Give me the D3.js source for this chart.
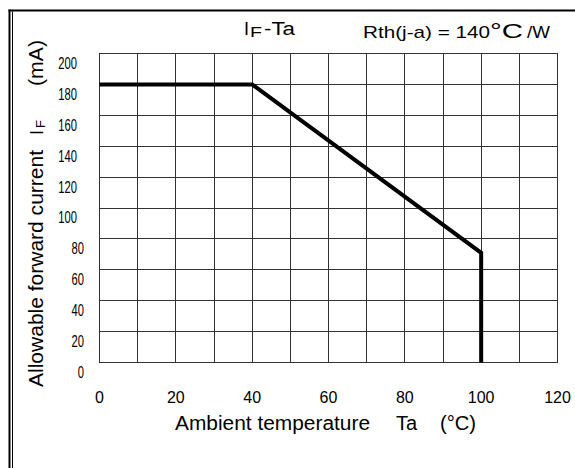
<!DOCTYPE html>
<html><head><meta charset="utf-8">
<script src="https://cdn.jsdelivr.net/npm/d3@7"></script>
<style>
body{margin:0;background:#fff}
svg{display:block}
text{font-family:"Liberation Sans",Arial,Helvetica,sans-serif;fill:#000}
</style>
</head><body>
<svg id="c" width="575" height="468"></svg>
<script>
// ---- data ----
const xTicks = [0, 20, 40, 60, 80, 100, 120];
const yTicks = [0, 20, 40, 60, 80, 100, 120, 140, 160, 180, 200];
const xGrid = [0, 10, 20, 30, 40, 50, 60, 70, 80, 90, 100, 110, 120];
const yGrid = [0, 20, 40, 60, 80, 100, 120, 140, 160, 180, 200];
const curveTa = [0, 40, 100, 100];
const curveIF = [180, 180, 71, 0];
const titleParts = ["I", "F", "-Ta"];
const rthParts = ["Rth(j-a) = 140", "°C", "/W"];
const xTitleParts = ["Ambient temperature", "Ta", "(°C)"];
const yTitleParts = ["Allowable forward current", "I", "F", "(mA)"];

// ---- chart ----
const svg = d3.select("#c");
const x = d3.scaleLinear().domain([0, 120]).range([99, 557]);
const y = d3.scaleLinear().domain([0, 200]).range([362, 53]);

// frame
const frame = svg.append("g").attr("stroke", "#000").attr("fill", "none");
frame.append("line").attr("x1", 8.5).attr("x2", 575).attr("y1", 10.5).attr("y2", 10.5).attr("stroke-width", 2);
frame.append("line").attr("x1", 9.5).attr("x2", 9.5).attr("y1", 9.5).attr("y2", 468).attr("stroke-width", 2);
frame.append("line").attr("x1", 12.5).attr("x2", 12.5).attr("y1", 11.5).attr("y2", 468).attr("stroke-width", 1);

// grid
const grid = svg.append("g").attr("stroke", "#333").attr("stroke-width", 1).attr("shape-rendering", "crispEdges");
grid.selectAll("line.v").data(xGrid).join("line").attr("class", "v")
  .attr("x1", d => Math.round(x(d)) + 0.5).attr("x2", d => Math.round(x(d)) + 0.5)
  .attr("y1", y(200)).attr("y2", y(0) + 1);
grid.selectAll("line.h").data(yGrid).join("line").attr("class", "h")
  .attr("y1", d => Math.round(y(d)) + 0.5).attr("y2", d => Math.round(y(d)) + 0.5)
  .attr("x1", x(0)).attr("x2", x(120) + 1);

// curve
const pts = curveTa.map((t, i) => [t, curveIF[i]]);
svg.append("path").datum(pts)
  .attr("d", d3.line().x(d => x(d[0]) + 0.5).y(d => y(d[1]) + 0.5))
  .attr("fill", "none").attr("stroke", "#000").attr("stroke-width", 4)
  .attr("stroke-linejoin", "miter").attr("stroke-linecap", "butt");

// x axis labels
const xa = svg.append("g").attr("transform", `translate(0,${y(0)})`)
  .call(d3.axisBottom(x).tickValues(xTicks).tickSize(0).tickPadding(29.5).tickFormat(d3.format("d")));
xa.select(".domain").remove();
xa.selectAll("text").attr("font-size", 16).attr("font-family", "Liberation Sans, Arial, sans-serif").attr("fill", "#000");

// y axis labels (condensed)
const sx = 0.7;
const ya = svg.append("g")
  .call(d3.axisLeft(y).tickValues(yTicks).tickSize(0).tickFormat(d3.format("d")));
ya.select(".domain").remove();
ya.selectAll("text")
  .attr("font-size", 16).attr("font-family", "Liberation Sans, Arial, sans-serif").attr("fill", "#000")
  .attr("text-anchor", "end")
  .attr("dy", 15.5)
  .attr("x", d => (String(d).length === 3 ? 77 : 84) / sx)
  .attr("transform", `scale(${sx},1)`);

// title
svg.append("text").attr("x", 244).attr("y", 35).attr("font-size", 18).text(titleParts[0]);
svg.append("text").attr("x", 250).attr("y", 36.5).attr("font-size", 14)
  .attr("textLength", 12).attr("lengthAdjust", "spacingAndGlyphs").text(titleParts[1]);
svg.append("text").attr("x", 264).attr("y", 35).attr("font-size", 18)
  .attr("textLength", 31).attr("lengthAdjust", "spacingAndGlyphs").text(titleParts[2]);

// Rth label
svg.append("text").attr("x", 363).attr("y", 38).attr("font-size", 17)
  .attr("textLength", 127).attr("lengthAdjust", "spacingAndGlyphs").text(rthParts[0]);
svg.append("text").attr("x", 490).attr("y", 38).attr("font-size", 20)
  .attr("textLength", 33).attr("lengthAdjust", "spacingAndGlyphs").text(rthParts[1]);
svg.append("text").attr("x", 527).attr("y", 38).attr("font-size", 17)
  .attr("textLength", 23).attr("lengthAdjust", "spacingAndGlyphs").text(rthParts[2]);

// x title
svg.append("text").attr("x", 175).attr("y", 429.5).attr("font-size", 20)
  .attr("textLength", 195).attr("lengthAdjust", "spacingAndGlyphs").text(xTitleParts[0]);
svg.append("text").attr("x", 396).attr("y", 429.5).attr("font-size", 20).text(xTitleParts[1]);
svg.append("text").attr("x", 440).attr("y", 429.5).attr("font-size", 20)
  .attr("textLength", 36).attr("lengthAdjust", "spacingAndGlyphs").text(xTitleParts[2]);

// y title (rotated)
const yt = svg.append("g").attr("transform", "translate(43.3,0) rotate(-90)");
yt.append("text").attr("x", -387).attr("y", 0).attr("font-size", 20)
  .attr("textLength", 237).attr("lengthAdjust", "spacingAndGlyphs").text(yTitleParts[0]);
yt.append("text").attr("x", -135).attr("y", 0).attr("font-size", 18).text(yTitleParts[1]);
yt.append("text").attr("x", -128).attr("y", 1.5).attr("font-size", 13).text(yTitleParts[2]);
yt.append("text").attr("x", -86).attr("y", 0).attr("font-size", 20)
  .attr("textLength", 46).attr("lengthAdjust", "spacingAndGlyphs").text(yTitleParts[3]);
</script>
</body></html>
